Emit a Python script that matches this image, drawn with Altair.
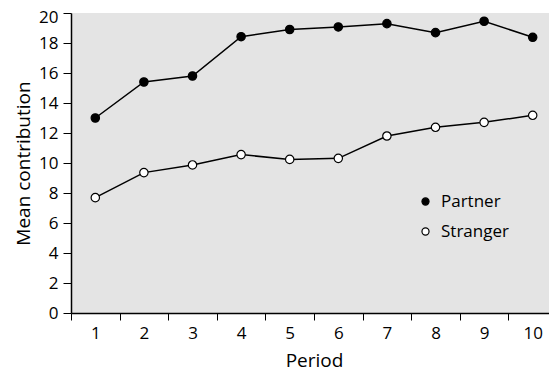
import altair as alt
import pandas as pd

periods = [1, 2, 3, 4, 5, 6, 7, 8, 9, 10]
partner = [13.0, 15.4, 15.8, 18.42, 18.9, 19.07, 19.29, 18.69, 19.45, 18.38]
stranger = [7.69, 9.36, 9.87, 10.56, 10.24, 10.31, 11.8, 12.38, 12.71, 13.18]
groups = ["Partner", "Stranger"]

rows = []
for p, v in zip(periods, partner):
    rows.append({"Period": p, "value": v, "group": "Partner"})
for p, v in zip(periods, stranger):
    rows.append({"Period": p, "value": v, "group": "Stranger"})
df = pd.DataFrame(rows)

FONT = "Open Sans"

x = alt.X("Period:O", title="Period",
          scale=alt.Scale(type="band", paddingInner=0, paddingOuter=0),
          axis=alt.Axis(labelAngle=0, tickBand="extent", domainColor="black",
                        tickColor="black", labelFontSize=17, titleFontSize=19,
                        labelFont=FONT, titleFont=FONT, labelColor="black",
                        titleColor="black", tickSize=7, labelPadding=5,
                        titlePadding=10, titleFontWeight="normal", domainWidth=1.5))
y = alt.Y("value:Q", title="Mean contribution",
          scale=alt.Scale(domain=[0, 20], nice=False),
          axis=alt.Axis(values=list(range(0, 21, 2)), domainColor="black",
                        tickColor="black", labelFontSize=17, titleFontSize=19,
                        labelFont=FONT, titleFont=FONT, labelColor="black",
                        titleColor="black", tickSize=8, labelPadding=5,
                        labelOffset={"condition": {"test": "datum.value == 20", "value": 4}, "value": 0},
                        titlePadding=5, titleFontWeight="normal", domainWidth=1.5,
                        grid=False))

lines = alt.Chart(df).mark_line(color="black", strokeWidth=1.5).encode(
    x=x, y=y, detail="group:N")

points = alt.Chart(df).mark_point(filled=True, size=70, stroke="black",
                                  strokeWidth=1.2, opacity=1).encode(
    x=x, y=y,
    fill=alt.Fill("group:N", scale=alt.Scale(domain=groups, range=["black", "white"]),
                  legend=alt.Legend(title=None, orient="none", legendX=346, legendY=180,
                                    labelFont=FONT, labelFontSize=17, labelColor="black",
                                    symbolSize=50, symbolStrokeColor="black",
                                    symbolStrokeWidth=1.2, rowPadding=12,
                                    labelOffset=7, symbolType="circle")),
)

chart = (lines + points).properties(
    width=486, height=300,
    background="white",
    padding={"left": 63, "top": 5, "right": -8, "bottom": 57},
    autosize=alt.AutoSizeParams(type="none"),
).configure_view(fill="#e4e4e4", stroke=None)

chart.save("out.html", embed_options={"renderer": "svg", "actions": False})
